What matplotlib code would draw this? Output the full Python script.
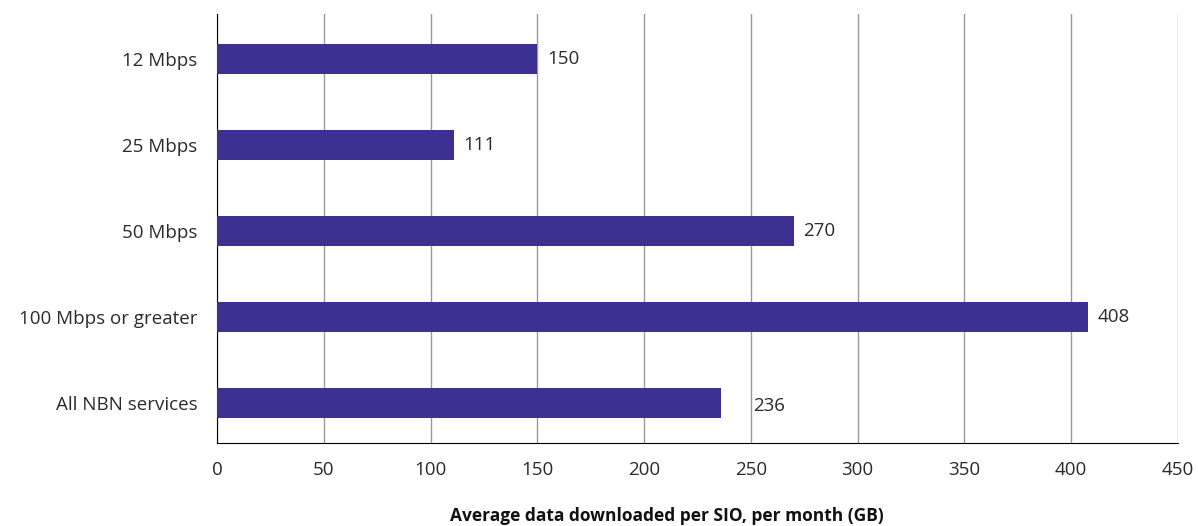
import matplotlib
matplotlib.use("Agg")
import matplotlib.pyplot as plt

# данные
categories = ['12 Mbps', '25 Mbps', '50 Mbps', '100 Mbps or greater', 'All NBN services']
values = [150, 111, 270, 408, 236]
x_ticks = [0, 50, 100, 150, 200, 250, 300, 350, 400, 450]

plt.rcParams['font.family'] = ['Open Sans', 'DejaVu Sans']

fig = plt.figure(figsize=(11.98, 5.26), dpi=100)
ax = fig.add_axes([0.1811, 0.1578, 0.8022, 0.8156])

pos = list(range(len(categories)))
ax.barh(pos, values, height=0.35, color='#3c3190', zorder=3)

fs = 13.5
txt_color = '#2a2a2a'

# подписи значений
for p, v in zip(pos, values):
    dx = 4.5
    dy = 0
    if v == 236:  # у этой подписи в оригинале больший отступ
        dx = 15
        dy = 0.04
    ax.text(v + dx, p + dy, str(v), va='center', ha='left',
            fontsize=fs, color=txt_color)

ax.set_yticks(pos)
ax.set_yticklabels(categories, fontsize=fs, color=txt_color)
ax.set_ylim(4.47, -0.53)
ax.set_xlim(0, 450)
ax.set_xticks(x_ticks)
ax.set_xticklabels([str(t) for t in x_ticks], fontsize=fs, color=txt_color)

ax.tick_params(axis='both', length=0)
ax.tick_params(axis='y', pad=14)
ax.tick_params(axis='x', pad=13)

ax.grid(axis='x', color='#999999', linewidth=1, zorder=0)
for s in ['top', 'right']:
    ax.spines[s].set_visible(False)
ax.spines['left'].set_color('black')
ax.spines['bottom'].set_color('black')

ax.set_xlabel('Average data downloaded per SIO, per month (GB)', fontsize=12.5,
              fontweight='bold', color='#111111')
ax.xaxis.set_label_coords(0.468, -0.170)
ax.xaxis.label.set_va('center')

fig.savefig('out.png', dpi=100)
